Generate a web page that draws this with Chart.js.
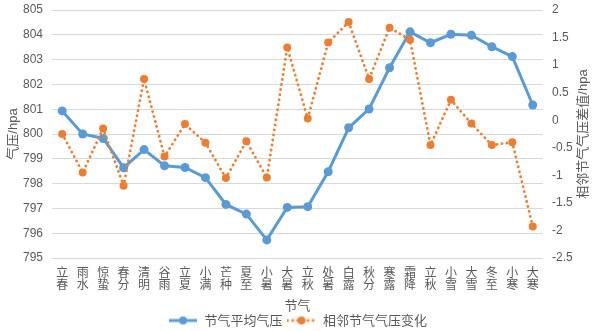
<!DOCTYPE html>
<html>
<head>
<meta charset="utf-8">
<script src="https://cdn.jsdelivr.net/npm/chart.js@4"></script>
<style>
  html, body { margin: 0; padding: 0; background: #fff; }
  #c { display: block; }
</style>
</head>
<body>
<canvas id="c" width="595" height="331"></canvas>
<script>
const terms = ['立春','雨水','惊蛰','春分','清明','谷雨','立夏','小满','芒种','夏至','小暑','大暑',
               '立秋','处暑','白露','秋分','寒露','霜降','立秋','小雪','大雪','冬至','小寒','大寒'];
const avgPressure = [800.93, 800.0, 799.82, 798.64, 799.37, 798.72, 798.65, 798.24, 797.16, 796.77, 795.73, 797.04,
                     797.07, 798.48, 800.25, 801.01, 802.67, 804.12, 803.68, 804.02, 803.98, 803.52, 803.12, 801.17];
const pressureChange = [-0.25, -0.95, -0.15, -1.19, 0.75, -0.66, -0.07, -0.41, -1.05, -0.38, -1.04, 1.32,
                        0.03, 1.41, 1.78, 0.75, 1.68, 1.46, -0.45, 0.37, -0.06, -0.45, -0.40, -1.93];
const leftTicks = { min: 795, max: 805, step: 1 };
const rightTicks = { min: -2.5, max: 2, step: 0.5 };

const BLUE = '#5B9BD5';
const ORANGE = '#ED7D31';
const TXT = '#595959';
const FONT = "'Liberation Sans', 'Noto Sans CJK SC', sans-serif";
const CJK = "'Noto Sans CJK SC', sans-serif";
const BOTTOM_PAD = -6;

// legend symbols: line + marker, like the spreadsheet legend
function legendIcon(color, dotted) {
  const cv = document.createElement('canvas');
  cv.width = 30; cv.height = 10;
  const g = cv.getContext('2d');
  g.strokeStyle = color;
  g.fillStyle = color;
  if (dotted) {
    g.lineWidth = 2.8;
    g.lineCap = 'round';
    g.setLineDash([0.1, 5]);
  } else {
    g.lineWidth = 3;
  }
  g.beginPath(); g.moveTo(1, 5); g.lineTo(29, 5); g.stroke();
  g.setLineDash([]);
  g.beginPath(); g.arc(15, 5, 4, 0, Math.PI * 2); g.fill();
  return cv;
}

// right axis title reads bottom-to-top, as in the original
const rightTitle = {
  id: 'rightTitle',
  afterDraw(chart) {
    const a = chart.chartArea;
    const ctx = chart.ctx;
    ctx.save();
    ctx.translate(chart.width - 12, (a.top + a.bottom) / 2);
    ctx.rotate(-Math.PI / 2);
    ctx.font = "13px " + FONT;
    ctx.fillStyle = TXT;
    ctx.textAlign = 'center';
    ctx.textBaseline = 'middle';
    ctx.fillText('相邻节气气压差值/hpa', 0, 0);
    ctx.restore();
  }
};

function fixSide(s) {
  s.width = 52;
  s.paddingTop = 0;
  s.paddingBottom = 0;
}

new Chart(document.getElementById('c'), {
  type: 'line',
  data: {
    labels: terms.map(t => t.split('')),
    datasets: [
      {
        label: '节气平均气压',
        data: avgPressure,
        yAxisID: 'y',
        borderColor: BLUE,
        backgroundColor: BLUE,
        borderWidth: 3,
        pointRadius: 4.5,
        pointBorderWidth: 0,
        pointBackgroundColor: BLUE,
        tension: 0,
        order: 1
      },
      {
        label: '相邻节气气压变化',
        data: pressureChange,
        yAxisID: 'y1',
        borderColor: ORANGE,
        backgroundColor: ORANGE,
        borderWidth: 2.8,
        borderDash: [0.1, 5],
        borderCapStyle: 'round',
        pointRadius: 4,
        pointBorderWidth: 0,
        pointBackgroundColor: ORANGE,
        tension: 0,
        order: 0
      }
    ]
  },
  options: {
    responsive: false,
    devicePixelRatio: 1,
    animation: false,
    layout: { padding: { left: 0, right: 0, top: 10, bottom: BOTTOM_PAD } },
    plugins: {
      tooltip: { enabled: false },
      legend: {
        position: 'bottom',
        labels: {
          font: { family: CJK, size: 13 },
          color: TXT,
          usePointStyle: true,
          pointStyleWidth: 30,
          padding: 4,
          sort: (a, b) => a.datasetIndex - b.datasetIndex,
          generateLabels(chart) {
            return chart.data.datasets.map((ds, i) => ({
              text: ds.label,
              datasetIndex: i,
              fontColor: TXT,
              pointStyle: legendIcon(ds.borderColor, i === 1),
              hidden: false,
              lineWidth: 0
            }));
          }
        }
      }
    },
    scales: {
      x: {
        offset: true,
        grid: { display: false, drawTicks: false },
        border: { display: false },
        ticks: {
          autoSkip: false,
          maxRotation: 0,
          minRotation: 0,
          padding: 8,
          color: TXT,
          font: { family: CJK, size: 12, lineHeight: 1.0 }
        },
        title: {
          display: true,
          text: '节气',
          color: TXT,
          font: { family: CJK, size: 13, lineHeight: 1.0 },
          padding: { top: 2, bottom: -2 }
        },
        afterFit(s) {
          const lh = s.chart.legend ? s.chart.legend.height : 27;
          s.height = 331 - BOTTOM_PAD - 258 - lh;
        }
      },
      y: {
        position: 'left',
        min: leftTicks.min,
        max: leftTicks.max,
        grid: { color: '#D9D9D9', lineWidth: 1, drawTicks: false },
        border: { display: false },
        ticks: {
          stepSize: leftTicks.step,
          padding: 9,
          color: TXT,
          font: { family: FONT, size: 12 }
        },
        title: {
          display: true,
          text: '气压/hpa',
          color: TXT,
          font: { family: FONT, size: 13 },
          padding: { top: 6, bottom: 0 }
        },
        afterFit: fixSide
      },
      y1: {
        position: 'right',
        min: rightTicks.min,
        max: rightTicks.max,
        grid: { drawOnChartArea: false, drawTicks: false },
        border: { display: false },
        ticks: {
          stepSize: rightTicks.step,
          padding: 9,
          color: TXT,
          font: { family: FONT, size: 12 },
          callback: v => String(v)
        },
        afterFit: fixSide
      }
    }
  },
  plugins: [rightTitle]
});
</script>
</body>
</html>
